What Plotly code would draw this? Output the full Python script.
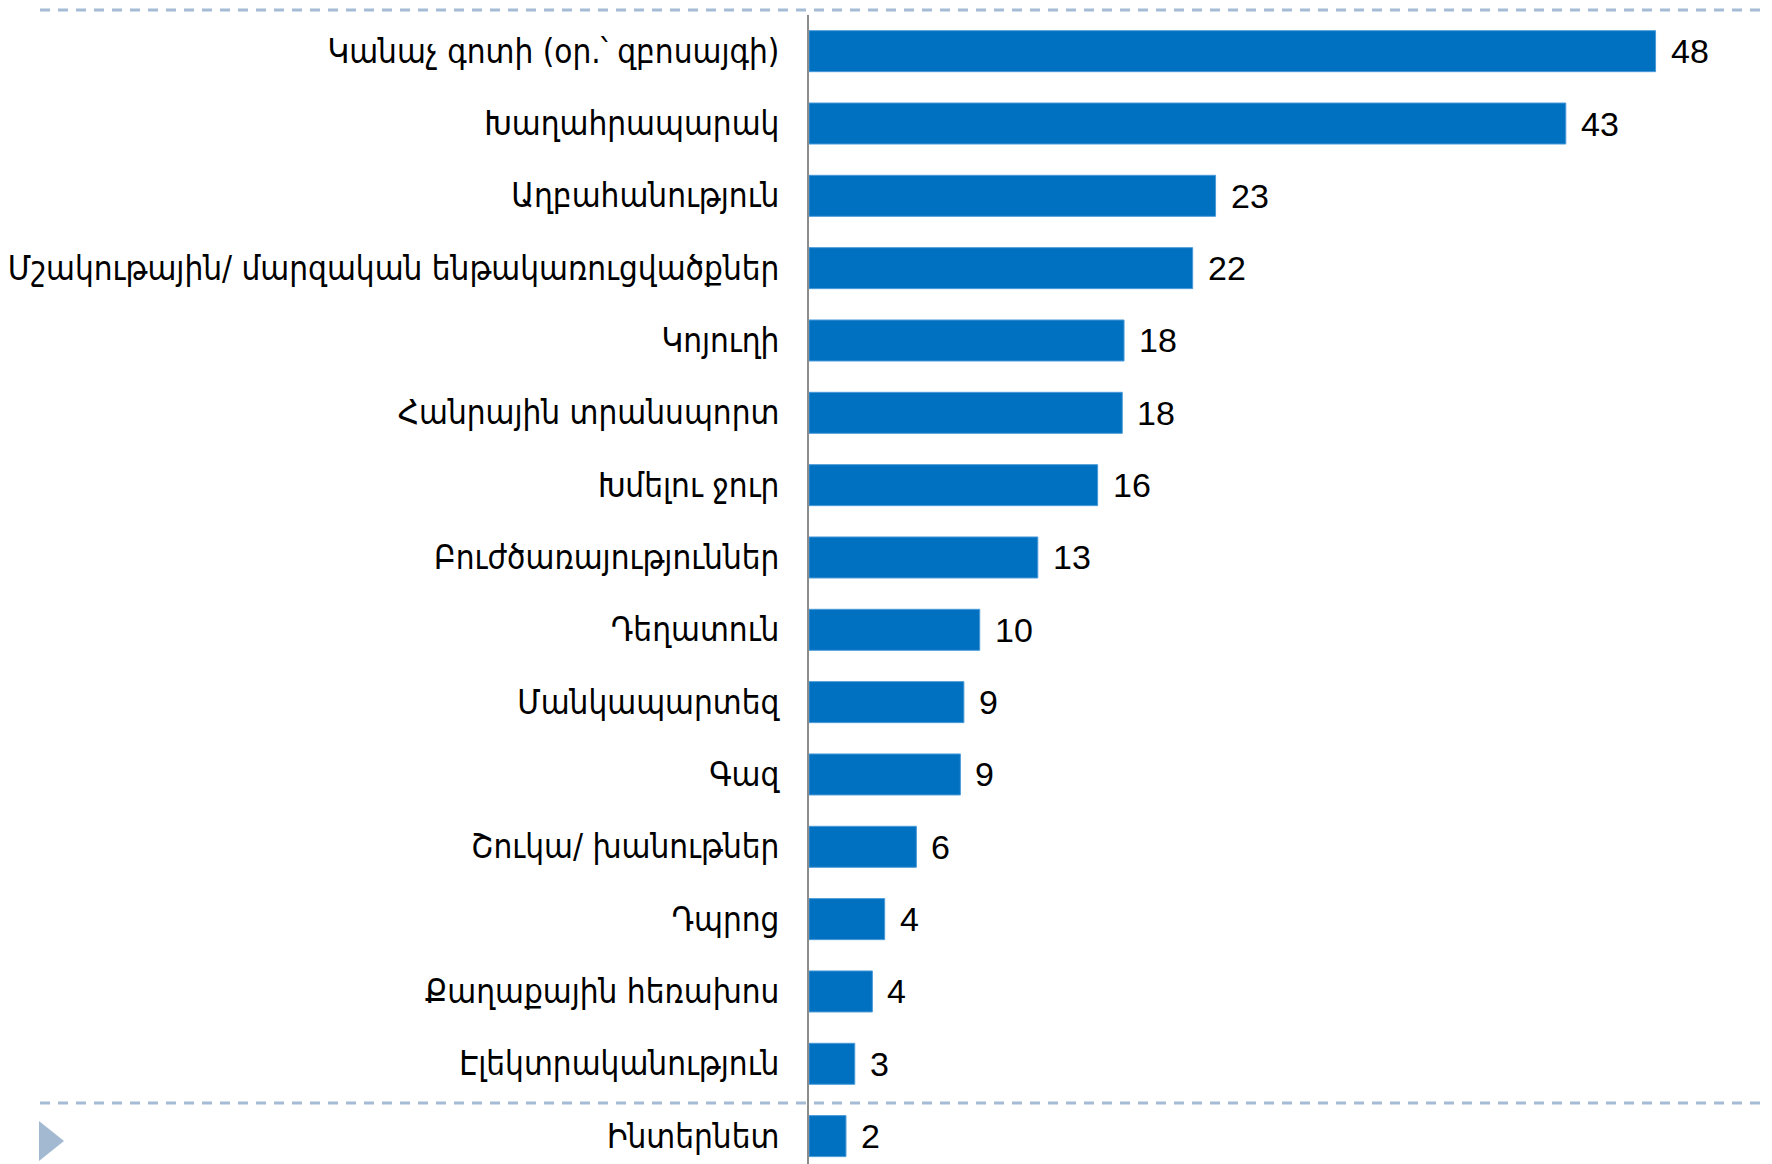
import plotly.graph_objects as go

categories = [
    "Կանաչ գոտի (օր.՝ զբոսայգի)",
    "Խաղահրապարակ",
    "Աղբահանություն",
    "Մշակութային/ մարզական ենթակառուցվածքներ",
    "Կոյուղի",
    "Հանրային տրանսպորտ",
    "Խմելու ջուր",
    "Բուժծառայություններ",
    "Դեղատուն",
    "Մանկապարտեզ",
    "Գազ",
    "Շուկա/ խանութներ",
    "Դպրոց",
    "Քաղաքային հեռախոս",
    "Էլեկտրականություն",
    "Ինտերնետ",
]
values = [48.1, 43.0, 23.1, 21.8, 17.9, 17.8, 16.4, 13.0, 9.7, 8.8, 8.6, 6.1, 4.3, 3.6, 2.6, 2.1]

OFF = 8  # default page body margin
W, H = 1772 - OFF, 1164 - OFF
ML, MT, MB, MR = 809 - OFF, 15 - OFF, 0, 0
PW, PH = W - ML - MR, H - MT - MB
PX_PER_UNIT = 17.6
CAT_PX = 72.33

def px_x(px):  # page pixel -> paper x
    return (px - OFF - ML) / PW

def px_y(py):  # page pixel -> paper y
    return (H - MB - (py - OFF)) / PH

fig = go.Figure()
fig.add_trace(go.Bar(
    x=values,
    y=categories,
    orientation="h",
    marker=dict(color="#0070C0", line=dict(color="#4A9AD8", width=1)),
    hoverinfo="x+y",
    showlegend=False,
))

for c, v in zip(categories, values):
    fig.add_annotation(
        x=v, y=c, xref="x", yref="y",
        text=f"{v:.0f}", showarrow=False,
        xanchor="left", yanchor="middle", xshift=13,
        font=dict(family="Liberation Sans, Arial, sans-serif", size=34, color="#000000"),
    )

dash_color = "#A6BBD5"
fig.add_shape(type="line", xref="paper", yref="paper",
              x0=px_x(40), x1=px_x(1772), y0=px_y(10), y1=px_y(10),
              line=dict(color=dash_color, width=3, dash="10px,8px"))
fig.add_shape(type="line", xref="paper", yref="paper",
              x0=px_x(40), x1=px_x(1772), y0=px_y(1103), y1=px_y(1103),
              line=dict(color=dash_color, width=3, dash="10px,8px"))
tx0, tx1 = px_x(39), px_x(64)
ty0, ty1, tym = px_y(1121), px_y(1161), px_y(1141)
fig.add_shape(type="path", xref="paper", yref="paper",
              path=f"M {tx0} {ty0} L {tx1} {tym} L {tx0} {ty1} Z",
              fillcolor="#A3B9D2", line=dict(width=0))

n_visible = PH / CAT_PX
fig.update_layout(
    width=W, height=H,
    margin=dict(l=ML, r=MR, t=MT, b=MB, pad=0),
    paper_bgcolor="white", plot_bgcolor="white",
    bargap=1 - 41 / CAT_PX,
    xaxis=dict(range=[0, PW / PX_PER_UNIT], visible=False, fixedrange=True),
    yaxis=dict(
        type="category",
        range=[n_visible - 0.5, -0.5],
        showline=True, linecolor="#8C8C8C", linewidth=2,
        showgrid=False, zeroline=False, ticks="",
        ticklabelstandoff=21,
        tickfont=dict(family="DejaVu Sans Condensed, DejaVu Sans, sans-serif", size=33, color="#000000"),
        fixedrange=True,
    ),
)

fig.write_html("out.html")
